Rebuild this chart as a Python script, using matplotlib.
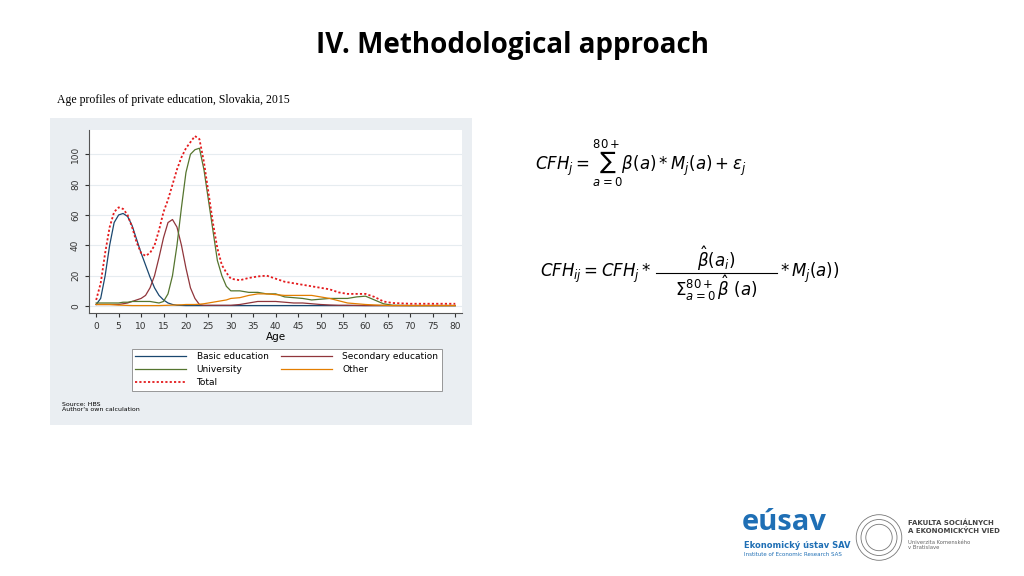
import matplotlib
matplotlib.use("Agg")
import matplotlib.pyplot as plt
from matplotlib.patches import Circle
from matplotlib.lines import Line2D

ages = [0,1,2,3,4,5,6,7,8,9,10,11,12,13,14,15,16,17,18,19,20,21,22,23,24,25,26,27,28,29,30,
        32,34,36,38,40,42,44,46,48,50,52,54,56,58,60,62,64,66,70,75,80]
basic = [1,5,20,40,55,60,61,59,53,44,35,27,19,12,7,4,2,1,0.5,0.4,0.3,0.3,0.3,0.3,0.3,0.3,0.3,0.3,0.3,0.3,0.3,
         0.3,0.3,0.3,0.3,0.3,0.3,0.3,0.3,0.3,0.3,0.3,0.3,0.3,0.3,0.3,0.3,0.3,0.3,0.3,0.3,0.3]
secondary = [1,1,1,1,1,1,1.5,2,3,4,5,7,12,20,32,45,55,57,52,40,25,12,5,1,0.5,0.5,0.5,0.5,0.5,0.5,0.5,
             1,2,3,3,3,2.5,2,2,1.5,1,0.7,0.5,0.5,0.4,0.3,0.3,0.3,0.3,0.3,0.3,0.3]
university = [2,2,2,2,2,2,2.5,2.5,3,3,3,3,3,2.5,2,3,8,20,40,65,88,100,103,104,90,70,50,30,20,13,10,
              10,9,9,8,8,6,5.5,5,4,4.5,5,5,5,6,6.5,4,1.5,0.5,0.3,0.3,0.3]
other = [1,1,1,1,0.8,0.6,0.5,0.4,0.3,0.3,0.3,0.3,0.3,0.3,0.3,0.4,0.5,0.6,0.7,0.8,1,1,1,1.2,1.5,2,2.5,3,3.5,4,5,
         5.5,7,8,8,7.5,7,7,7,7,6,5,3.5,2,1.5,1,0.7,0.5,0.3,0.3,0.3,0.3]
total = [4,15,35,52,62,65,64,60,52,42,35,33,35,40,50,62,70,80,90,98,104,108,112,110,95,75,55,38,27,22,18,
         17,18.5,19.5,20,18,16,15,14,13,12,11,9,8,8,8,6,3,2,1.5,1.5,1.5]

fig = plt.figure(figsize=(10.24, 5.76), dpi=100)
fig.text(0.5, 1-45/576, "IV. Methodological approach", ha="center", va="center",
         fontsize=20, fontweight="bold", family="Open Sans")
fig.text(57/1024, 1-100/576, "Age profiles of private education, Slovakia, 2015",
         fontsize=8.5, family="Liberation Serif", va="center")
bg = fig.add_axes([50/1024, 1-425/576, 422/1024, 307/576], zorder=0)
bg.set_facecolor("#eaeef2"); bg.set_xticks([]); bg.set_yticks([])
for s in bg.spines.values():
    s.set_visible(False)

ax = fig.add_axes([89/1024, 1-313/576, 373/1024, 183/576], zorder=2)
ax.set_facecolor("white")
ax.plot(ages, basic, color="#1a476f", lw=0.9, label="Basic education")
ax.plot(ages, secondary, color="#90353b", lw=0.9, label="Secondary education")
ax.plot(ages, university, color="#55752f", lw=0.9, label="University")
ax.plot(ages, other, color="#e37e00", lw=0.9, label="Other")
ax.plot(ages, total, color="#e41a1c", lw=1.3, ls=(0, (1.2, 1.2)), label="Total")
ax.set_xlim(-1.6, 81.5)
ax.set_ylim(-4.6, 116)
ax.set_xticks(range(0, 81, 5))
ax.set_yticks(range(0, 101, 20))
ax.tick_params(labelsize=6.5, length=3, colors="#333333")
for lab in ax.get_yticklabels():
    lab.set_rotation(90); lab.set_va("center")
ax.grid(axis="y", color="#e6ecf0", lw=0.8)
for s in ["top", "right"]:
    ax.spines[s].set_visible(False)
ax.spines["left"].set_color("#555555"); ax.spines["bottom"].set_color("#555555")
ax.set_xlabel("Age", fontsize=7.5, labelpad=1)
handles, labels = ax.get_legend_handles_labels()
order = [0, 2, 4, 1, 3]
leg = fig.legend([handles[i] for i in order], [labels[i] for i in order], ncol=2,
                 loc="upper left", bbox_to_anchor=(127/1024, 1-344/576), fontsize=6.5,
                 frameon=True, fancybox=False, edgecolor="#888888", handlelength=5.6,
                 columnspacing=1.4, borderpad=0.4, labelspacing=0.45, framealpha=1,
                 handletextpad=1.2)
leg.get_frame().set_linewidth(0.6)
leg.set_zorder(5)
fig.text(62/1024, 1-407/576, "Source: HBS\nAuthor's own calculation", fontsize=4.5, va="center",
         linespacing=1.1, zorder=5)

fig.text(535/1024, 1-163/576, r"$CFH_j=\sum_{a=0}^{80+}\beta(a)*M_j(a)+\varepsilon_j$",
         fontsize=12, va="center")
y2 = 1-273/576
fig.text(540/1024, y2, r"$CFH_{ij}=CFH_j*$", fontsize=12, va="center")
fig.text(716/1024, 1-259/576, r"$\hat{\beta}(a_i)$", fontsize=12, va="center", ha="center")
fig.add_artist(Line2D([656/1024, 777/1024], [y2, y2], color="black", lw=0.8))
fig.text(716/1024, 1-288/576, r"$\Sigma_{a=0}^{80+}\,\hat{\beta}\ (a)$", fontsize=12,
         va="center", ha="center")
fig.text(780/1024, y2, r"$*\,M_j(a))$", fontsize=12, va="center")

fig.text(742/1024, 1-522/576, "eúsav", fontsize=21, fontweight="bold", color="#1f6fb5",
         family="Open Sans", va="center")
fig.text(744/1024, 1-545/576, "Ekonomický ústav SAV", fontsize=6, fontweight="bold",
         color="#1f6fb5", va="center")
fig.text(744/1024, 1-554/576, "Institute of Economic Research SAS", fontsize=4,
         color="#1f6fb5", va="center")
lx = fig.add_axes([855/1024, 1-565/576, 48/1024, 55/576]); lx.axis("off")
lx.set_xlim(-1, 1); lx.set_ylim(-1, 1); lx.set_aspect("equal")
for r in [0.95, 0.75, 0.55]:
    lx.add_patch(Circle((0, 0), r, fill=False, ec="#777777", lw=0.6))
fig.text(908/1024, 1-527/576, "FAKULTA SOCIÁLNYCH\nA EKONOMICKÝCH VIED", fontsize=5,
         fontweight="bold", color="#444444", va="center", linespacing=1.1)
fig.text(908/1024, 1-545/576, "Univerzita Komenského\nv Bratislave", fontsize=3.8,
         color="#666666", va="center", linespacing=1.1)

fig.savefig("out.png", dpi=100, facecolor="white")
